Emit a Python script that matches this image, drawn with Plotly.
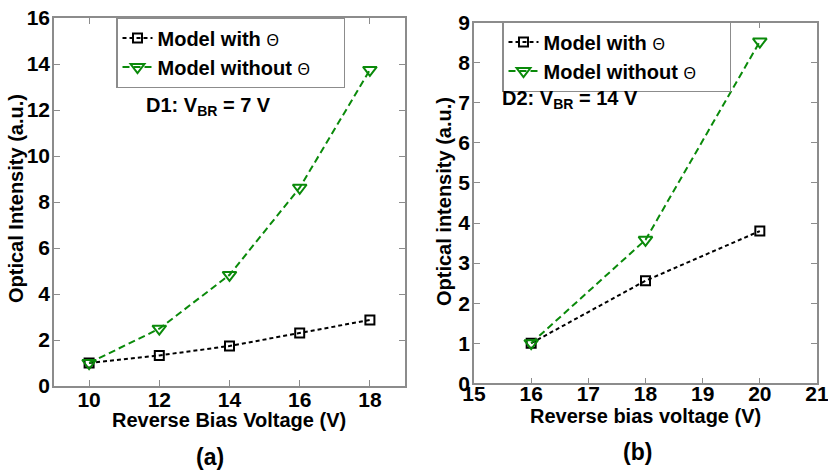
import plotly.graph_objects as go

# Panel (a): D1
x_a = [10, 12, 14, 16, 18]
with_a = [1.0, 1.33, 1.74, 2.30, 2.87]
without_a = [1.0, 2.49, 4.83, 8.62, 13.74]

# Panel (b): D2
x_b = [16, 18, 20]
with_b = [1.0, 2.56, 3.80]
without_b = [1.0, 3.58, 8.53]

xticks_a = [10, 12, 14, 16, 18]
yticks_a = [0, 2, 4, 6, 8, 10, 12, 14, 16]
xticks_b = [15, 16, 17, 18, 19, 20, 21]
yticks_b = [0, 1, 2, 3, 4, 5, 6, 7, 8, 9]

FONT = "Liberation Sans, Arial, sans-serif"
GREEN = "#0a8a0a"
THETA = "<span style='font-size:16px'>Θ</span>"
PAD = "\u00a0" * 5

W, H = 828, 471
def px(x): return x / W
def py(y): return 1 - y / H

fig = go.Figure()

series = [
    (x_a, with_a, "x", "y", "legend", "with"),
    (x_a, without_a, "x", "y", "legend", "without"),
    (x_b, with_b, "x2", "y2", "legend2", "with"),
    (x_b, without_b, "x2", "y2", "legend2", "without"),
]
for xs, ys, xa, ya, leg, kind in series:
    if kind == "with":
        fig.add_trace(go.Scatter(
            x=xs, y=ys, xaxis=xa, yaxis=ya, mode="lines+markers",
            name="<b>Model with </b>" + THETA + PAD, legend=leg,
            line=dict(color="black", dash="4px,3px", width=2),
            marker=dict(symbol="square-open", size=9, color="black", line=dict(width=2))))
    else:
        fig.add_trace(go.Scatter(
            x=xs, y=ys, xaxis=xa, yaxis=ya, mode="lines+markers",
            name="<b>Model without </b>" + THETA + PAD, legend=leg,
            line=dict(color=GREEN, dash="7px,4px", width=2),
            marker=dict(symbol="triangle-down-open", size=12, color=GREEN, line=dict(width=2))))

axis_common = dict(showline=True, mirror="ticks", linecolor="#8c8c8c", linewidth=1.5,
                   ticks="inside", ticklen=6, tickcolor="#8c8c8c", showgrid=False, zeroline=False,
                   automargin=False, ticklabeloverflow="allow",
                   tickfont=dict(family=FONT, size=21, color="black", weight="bold"))

def bold(vals):
    return ["<b>%s</b>" % v for v in vals]

fig.update_layout(
    width=W, height=H, margin=dict(l=0, r=0, t=0, b=0),
    paper_bgcolor="white", plot_bgcolor="white",
    font=dict(family=FONT, color="black"),
    xaxis=dict(domain=[px(54), px(405)], range=[9, 19], tickvals=xticks_a, ticktext=bold(xticks_a),
               anchor="y", ticklabelstandoff=-6, **axis_common),
    yaxis=dict(domain=[py(386), py(18)], range=[0, 16], tickvals=yticks_a, ticktext=bold(yticks_a),
               anchor="x", ticklabelstandoff=-2, **axis_common),
    xaxis2=dict(domain=[px(474), px(817)], range=[15, 21], tickvals=xticks_b, ticktext=bold(xticks_b),
                anchor="y2", ticklabelstandoff=-9, **axis_common),
    yaxis2=dict(domain=[py(383.3), py(22.7)], range=[0, 9], tickvals=yticks_b, ticktext=bold(yticks_b),
                anchor="x2", ticklabelstandoff=-2, **axis_common),
    legend=dict(x=px(116), y=py(17), xanchor="left", yanchor="top", bgcolor="white",
                bordercolor="#8c8c8c", borderwidth=1.5,
                font=dict(family=FONT, size=20, color="black"),
                itemwidth=30, tracegroupgap=0),
    legend2=dict(x=px(502), y=py(21), xanchor="left", yanchor="top", bgcolor="white",
                 bordercolor="#8c8c8c", borderwidth=1.5,
                 font=dict(family=FONT, size=20, color="black"),
                 itemwidth=30, tracegroupgap=0),
    showlegend=True,
)

ann_font = dict(family=FONT, size=20, color="black")
annotations = [
    dict(text="Reverse Bias Voltage (V)", x=px(229), y=py(420)),
    dict(text="Reverse bias voltage (V)", x=px(645), y=py(416)),
    dict(text="(a)", x=px(210), y=py(457), size=23),
    dict(text="(b)", x=px(637), y=py(452), size=23),
    dict(text="Optical Intensity (a.u.)", x=px(16), y=py(199), textangle=-90),
    dict(text="Optical intensity (a.u.)", x=px(444), y=py(202), textangle=-90),
    dict(text="D1: V<sub>BR</sub> = 7 V", x=px(208), y=py(107)),
    dict(text="D2: V<sub>BR</sub> = 14 V", x=px(570), y=py(100)),
]
for a in annotations:
    f = dict(ann_font)
    if "size" in a:
        f["size"] = a.pop("size")
    a["text"] = "<b>" + a["text"] + "</b>"
    fig.add_annotation(xref="paper", yref="paper", showarrow=False,
                       xanchor=a.pop("xanchor", "center"), yanchor="middle", font=f, **a)

fig.write_html("out.html")
